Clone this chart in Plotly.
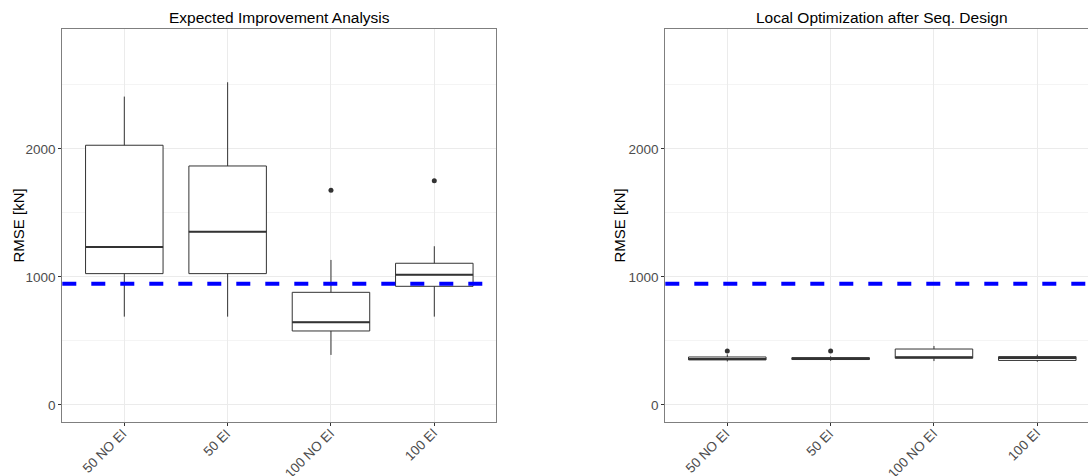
import plotly.graph_objects as go

# ---- data -------------------------------------------------------------
categories = ["50 NO EI", "50 EI", "100 NO EI", "100 EI"]
positions = [1, 2, 3, 4]

# Expected Improvement Analysis: box statistics (RMSE in kN)
ei_low = [690, 690, 391, 690]
ei_q1 = [1026, 1026, 578, 927]
ei_median = [1234, 1354, 646, 1018]
ei_q3 = [2029, 1867, 880, 1107]
ei_high = [2409, 2521, 1133, 1240]
ei_outlier_pos = [3, 4]
ei_outlier_val = [1677, 1752]

# Local Optimization after Seq. Design: box statistics (RMSE in kN)
loc_low = [340, 345, 343, 338]
loc_q1 = [352, 355, 365, 348]
loc_median = [360, 362, 373, 366]
loc_q3 = [375, 370, 437, 378]
loc_high = [395, 380, 461, 393]
loc_outlier_pos = [1, 2]
loc_outlier_val = [422, 422]

reference_rmse = 947

y_ticks = [0, 1000, 2000]

# ---- styling ----------------------------------------------------------
FONT = "Liberation Sans, Arial, sans-serif"
BOX_COLOR = "#333333"
GRID = "#EBEBEB"
GRID_MINOR = "#F4F4F4"
BORDER = "#7F7F7F"
TICK_TEXT = "#4D4D4D"
BOX_WIDTH = 0.75

W, H = 1088, 476
left_px = (62.3, 496.3)
right_px = (665.3, 1088.0)
top_px, bottom_px = 29.0, 422.0
unit_px = (left_px[1] - left_px[0]) / 4.2
y_range = [-133, 2937]

fig = go.Figure()


def add_panel(xa, ya, low, q1, med, q3, high, opos, oval):
    fig.add_trace(go.Box(
        x=positions, lowerfence=low, q1=q1, median=med, q3=q3, upperfence=high,
        width=BOX_WIDTH, whiskerwidth=0, boxpoints=False,
        fillcolor="white", line=dict(color=BOX_COLOR, width=1),
        xaxis=xa, yaxis=ya, showlegend=False, hoverinfo="skip",
    ))
    # thicker median bars, as in ggplot's default boxplot
    for p, m in zip(positions, med):
        fig.add_trace(go.Scatter(
            x=[p - BOX_WIDTH / 2, p + BOX_WIDTH / 2], y=[m, m], mode="lines",
            line=dict(color=BOX_COLOR, width=2), xaxis=xa, yaxis=ya,
            showlegend=False, hoverinfo="skip",
        ))
    fig.add_trace(go.Scatter(
        x=opos, y=oval, mode="markers",
        marker=dict(color=BOX_COLOR, size=5), xaxis=xa, yaxis=ya,
        showlegend=False, hoverinfo="skip",
    ))


add_panel("x", "y", ei_low, ei_q1, ei_median, ei_q3, ei_high,
          ei_outlier_pos, ei_outlier_val)
add_panel("x2", "y2", loc_low, loc_q1, loc_median, loc_q3, loc_high,
          loc_outlier_pos, loc_outlier_val)

# reference RMSE level drawn across both panels
for xr, yr in (("x domain", "y"), ("x2 domain", "y2")):
    fig.add_shape(type="line", xref=xr, yref=yr, x0=0, x1=1,
                  y0=reference_rmse, y1=reference_rmse, layer="above",
                  line=dict(color="#0000FF", width=4, dash="14px,15px"))


def xaxis_cfg(domain_px, rng, mirror):
    return dict(
        domain=[domain_px[0] / W, domain_px[1] / W], range=rng,
        tickvals=positions, showticklabels=False,
        ticks="outside", ticklen=3, tickcolor=BOX_COLOR,
        showgrid=True, gridcolor=GRID, gridwidth=1, zeroline=False,
        showline=True, linecolor=BORDER, linewidth=1, mirror=mirror,
        fixedrange=True, automargin=False,
    )


def yaxis_cfg(anchor, mirror):
    return dict(
        domain=[(H - bottom_px) / H, (H - top_px) / H], range=y_range,
        anchor=anchor, tickvals=y_ticks,
        tickfont=dict(family=FONT, size=13.5, color=TICK_TEXT),
        ticks="outside", ticklen=3, tickcolor=BOX_COLOR,
        showgrid=True, gridcolor=GRID, gridwidth=1, zeroline=False,
        minor=dict(tickvals=[500, 1500, 2500], showgrid=True,
                   gridcolor=GRID_MINOR, gridwidth=1, ticks=""),
        showline=True, linecolor=BORDER, linewidth=1, mirror=mirror,
        fixedrange=True, automargin=False,
    )


right_end = 0.4 + (right_px[1] - right_px[0]) / unit_px

fig.update_layout(
    width=W, height=H,
    margin=dict(l=0, r=0, t=0, b=0),
    paper_bgcolor="white", plot_bgcolor="white",
    font=dict(family=FONT, color="black"),
    xaxis=xaxis_cfg(left_px, [0.4, 4.6], True),
    yaxis=yaxis_cfg("x", True),
    xaxis2=dict(xaxis_cfg(right_px, [0.4, right_end], True), anchor="y2"),
    yaxis2=yaxis_cfg("x2", False),
)

# rotated category labels, right/top-justified under each tick
label_y = 1 - 429 / H
for xa in ("x", "x2"):
    for p, name in zip(positions, categories):
        fig.add_annotation(x=p, y=label_y, xref=xa, yref="paper",
                           xshift=9, yshift=6,
                           text=name, textangle=-45, showarrow=False,
                           xanchor="right", yanchor="top",
                           font=dict(family=FONT, size=13.5, color=TICK_TEXT))

# panel titles and y-axis titles
left_centre = (left_px[0] + left_px[1]) / 2
right_centre = right_px[0] + 4.2 * unit_px / 2
for cx, text in ((left_centre, "Expected Improvement Analysis"),
                 (right_centre, "Local Optimization after Seq. Design")):
    fig.add_annotation(x=cx / W, y=1 - 18 / H, xref="paper", yref="paper",
                       text=text, showarrow=False, xanchor="center",
                       yanchor="middle", font=dict(family=FONT, size=15.5, color="black"))

y_mid = 1 - ((top_px + bottom_px) / 2) / H
for tx in (18, 619):
    fig.add_annotation(x=tx / W, y=y_mid, xref="paper", yref="paper",
                       text="RMSE [kN]", textangle=-90, showarrow=False,
                       xanchor="center", yanchor="middle",
                       font=dict(family=FONT, size=15, color="black"))

fig.write_html("out.html")
